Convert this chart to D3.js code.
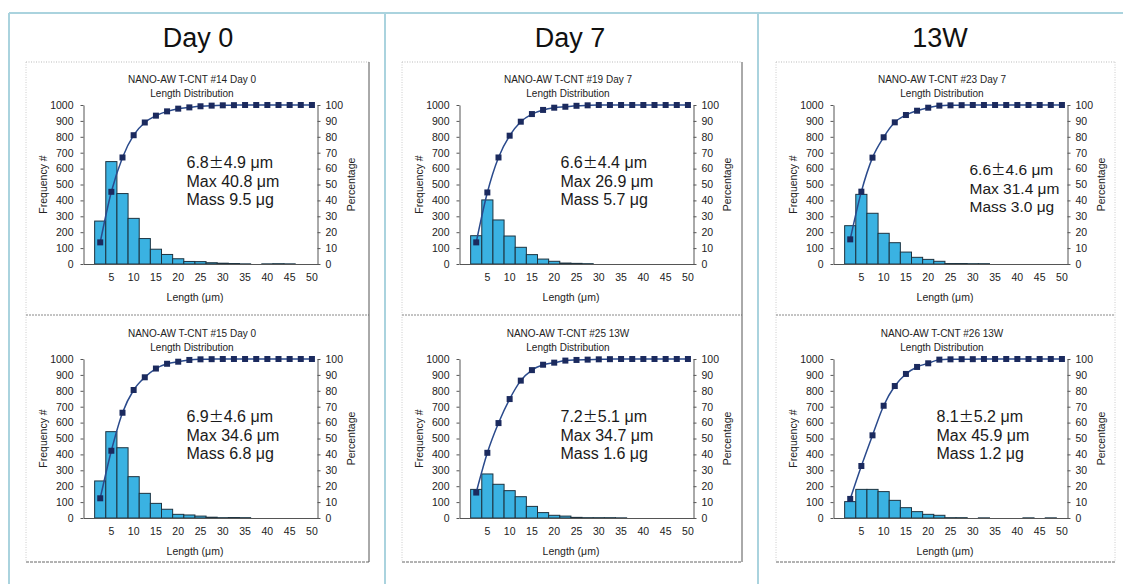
<!DOCTYPE html>
<html>
<head>
<meta charset="utf-8">
<script src="https://cdn.jsdelivr.net/npm/d3@7"></script>
<style>
  body { margin: 0; background: #fff; }
  svg { display: block; font-family: "Liberation Sans", Arial, sans-serif; }
</style>
</head>
<body>
<div id="chart"></div>
<script>
// ---- data ----
const columnTitles = ["Day 0", "Day 7", "13W"]

const sampleTitles = [
    "NANO-AW T-CNT  #14 Day 0", "NANO-AW T-CNT  #15 Day 0",
    "NANO-AW T-CNT  #19 Day 7", "NANO-AW T-CNT  #25 13W",
    "NANO-AW T-CNT  #23 Day 7", "NANO-AW T-CNT  #26 13W"
]

// upper edge of each 2.5 um length bin
const binEdges = [2.5, 5, 7.5, 10, 12.5, 15, 17.5, 20, 22.5, 25, 27.5, 30, 32.5, 35, 37.5, 40, 42.5, 45, 47.5, 50]
const xTickLabels = [5, 10, 15, 20, 25, 30, 35, 40, 45, 50]
const freqTicks = [0, 100, 200, 300, 400, 500, 600, 700, 800, 900, 1000]
const pctTicks = [0, 10, 20, 30, 40, 50, 60, 70, 80, 90, 100]

// frequency per bin
const freq14 = [270, 644, 443, 287, 160, 93, 60, 33, 16, 15, 8, 5, 3, 1, 0, 1, 2, 1, 0, 0]
const freq15 = [233, 543, 442, 260, 155, 92, 55, 23, 19, 12, 5, 2, 3, 2, 0, 0, 0, 0, 0, 0]
const freq19 = [178, 403, 277, 176, 105, 59, 31, 17, 6, 4, 2, 0, 0, 0, 0, 0, 0, 0, 0, 0]
const freq25 = [180, 277, 212, 172, 134, 73, 34, 17, 12, 4, 2, 2, 2, 1, 0, 0, 0, 0, 0, 0]
const freq23 = [241, 438, 319, 193, 134, 75, 42, 29, 17, 3, 3, 2, 2, 0, 0, 0, 0, 0, 0, 0]
const freq26 = [103, 180, 180, 166, 111, 65, 40, 23, 17, 2, 2, 0, 1, 0, 0, 0, 1, 0, 1, 0]

// cumulative percentage per bin
const cum14 = [13.6, 45.4, 67, 81, 89, 93.3, 96, 97.7, 98.5, 99.2, 99.6, 99.8, 99.9, 100, 100, 100, 100, 100, 100, 100]
const cum15 = [12.4, 42.3, 66.2, 80.5, 88.5, 94, 97, 98.3, 99.4, 99.8, 99.9, 100, 100, 100, 100, 100, 100, 100, 100, 100]
const cum19 = [13.6, 45, 67, 80.7, 89.5, 94.3, 96.9, 98.3, 98.9, 99.5, 99.8, 100, 100, 100, 100, 100, 100, 100, 100, 100]
const cum25 = [16, 41, 59.7, 74.8, 86.4, 93, 96.4, 97.7, 99, 99.4, 99.6, 99.8, 99.9, 100, 100, 100, 100, 100, 100, 100]
const cum23 = [15.5, 45.5, 66.9, 79.7, 89.1, 93.7, 96.4, 98.3, 99.6, 99.8, 99.9, 100, 100, 100, 100, 100, 100, 100, 100, 100]
const cum26 = [12, 32.7, 52, 70.6, 83, 90.6, 95, 97.3, 99.6, 99.8, 99.9, 99.9, 100, 100, 100, 100, 100, 100, 100, 100]

const meanSd = ["6.8", "4.9", "6.9", "4.6", "6.6", "4.4", "7.2", "5.1", "6.6", "4.6", "8.1", "5.2"]
const maxLength = ["40.8", "34.6", "26.9", "34.7", "31.4", "45.9"]
const massUg = ["9.5", "6.8", "5.7", "1.6", "3.0", "1.2"]

// ---- layout ----
const W = 1123, H = 584
const colLeft = [26, 402, 776]
const colRight = [369, 742, 1115]
const rowTop = [62, 316]
const plotOffset = {left: 57.5, top: 43, width: 234, height: 159}
// annotation [x, y, font size] inside plot (top-right one sits lower and further right)
const noteOffset = [[103, 63, 16], [103, 63, 16], [101, 63, 16], [101, 63, 16], [136, 70, 15.5], [103, 63, 16]]

const freqs = [freq14, freq15, freq19, freq25, freq23, freq26]
const cums = [cum14, cum15, cum19, cum25, cum23, cum26]

const svg = d3.select("#chart").append("svg")
    .attr("width", W)
    .attr("height", H)

// outer light blue frame
const frame = svg.append("g").attr("stroke", "#aad3de").attr("stroke-width", 2).attr("fill", "none")
frame.append("line").attr("x1", 9).attr("x2", W).attr("y1", 13).attr("y2", 13)
;[9, 385, 758].forEach(x => {
    frame.append("line").attr("x1", x).attr("x2", x).attr("y1", 13).attr("y2", H)
})

// column titles
columnTitles.forEach((t, c) => {
    svg.append("text")
        .attr("x", [198, 570, 940][c])
        .attr("y", 47)
        .attr("text-anchor", "middle")
        .attr("font-size", 27)
        .attr("fill", "#111")
        .text(t)
})

// panel borders
colLeft.forEach((x0, c) => {
    const x1 = colRight[c]
    const g = svg.append("g").attr("fill", "none")
    g.append("line").attr("x1", x0).attr("x2", x1).attr("y1", 62).attr("y2", 62)
        .attr("stroke", "#bbb").attr("stroke-dasharray", "1,1.5")
    g.append("line").attr("x1", x0).attr("x2", x0).attr("y1", 62).attr("y2", 562)
        .attr("stroke", "#ccc").attr("stroke-dasharray", "1,1.5")
    g.append("line").attr("x1", x0).attr("x2", x1).attr("y1", 315).attr("y2", 315)
        .attr("stroke", "#888").attr("stroke-dasharray", "2,1")
    g.append("line").attr("x1", x0).attr("x2", x1).attr("y1", 562).attr("y2", 562)
        .attr("stroke", "#666").attr("stroke-dasharray", "3,1")
    g.append("line").attr("x1", x1).attr("x2", x1).attr("y1", 62).attr("y2", 562)
        .attr("stroke", c < 2 ? "#555" : "#ccc")
        .attr("stroke-dasharray", c < 2 ? null : "1,1.5")
})

// one chart per panel
for (let i = 0; i < 6; i++) {
    const c = Math.floor(i / 2), r = i % 2
    drawChart(i, colLeft[c], rowTop[r])
}

function drawChart(i, px, py) {
    const g = svg.append("g").attr("transform", `translate(${px}, ${py})`)
    const pw = plotOffset.width, ph = plotOffset.height

    // titles
    g.append("text").attr("x", 166).attr("y", 21).attr("text-anchor", "middle")
        .attr("font-size", 10).attr("fill", "#222").text(sampleTitles[i])
    g.append("text").attr("x", 166).attr("y", 35).attr("text-anchor", "middle")
        .attr("font-size", 10).attr("fill", "#222").text("Length Distribution")

    const plot = g.append("g").attr("transform", `translate(${plotOffset.left}, ${plotOffset.top})`)

    const x = d3.scaleBand().domain([0].concat(binEdges)).range([0, pw]).padding(0)
    const yL = d3.scaleLinear().domain([0, 1000]).range([ph, 0])
    const yR = d3.scaleLinear().domain([0, 100]).range([ph, 0])

    const rows = binEdges.map((b, k) => ({bin: b, freq: freqs[i][k], cum: cums[i][k]}))

    // bars
    plot.selectAll(".bar")
        .data(rows.filter(d => d.freq > 0))
        .enter().append("rect")
        .attr("class", "bar")
        .attr("x", d => x(d.bin))
        .attr("y", d => yL(d.freq))
        .attr("width", x.bandwidth())
        .attr("height", d => ph - yL(d.freq))
        .attr("fill", "#3ab2e2")
        .attr("stroke", "#1d3340")
        .attr("stroke-width", 1)

    // axes
    const axisStyle = sel => {
        sel.selectAll("path").attr("stroke", "#555")
        sel.selectAll("line").attr("stroke", "#555")
        sel.selectAll("text").attr("fill", "#222").attr("font-size", 10.5)
            .attr("font-family", "Liberation Sans, Arial, sans-serif")
    }
    plot.append("g").attr("transform", `translate(0, ${ph})`)
        .call(d3.axisBottom(x).tickValues(xTickLabels).tickSize(0).tickPadding(10))
        .call(axisStyle)
    plot.append("g")
        .call(d3.axisLeft(yL).tickValues(freqTicks).tickFormat(d3.format("d"))
            .tickSize(3).tickSizeOuter(0).tickPadding(7))
        .call(axisStyle)
    plot.append("g").attr("transform", `translate(${pw}, 0)`)
        .call(d3.axisRight(yR).tickValues(pctTicks).tickFormat(d3.format("d"))
            .tickSize(3).tickSizeOuter(0).tickPadding(5))
        .call(axisStyle)

    // cumulative line
    const line = d3.line()
        .x(d => x(d.bin) + x.bandwidth() / 2)
        .y(d => yR(d.cum))
        .curve(d3.curveMonotoneX)
    plot.append("path").datum(rows)
        .attr("fill", "none")
        .attr("stroke", "#2a4a8c")
        .attr("stroke-width", 1.5)
        .attr("d", line)
    plot.selectAll(".mk")
        .data(rows)
        .enter().append("rect")
        .attr("class", "mk")
        .attr("x", d => x(d.bin) + x.bandwidth() / 2 - 3)
        .attr("y", d => yR(d.cum) - 3)
        .attr("width", 6)
        .attr("height", 6)
        .attr("fill", "#1b2a5e")

    // axis titles
    g.append("text")
        .attr("transform", `translate(21, ${plotOffset.top + ph / 2}) rotate(-90)`)
        .attr("text-anchor", "middle").attr("font-size", 10.5).attr("fill", "#222")
        .text("Frequency #")
    g.append("text")
        .attr("transform", `translate(329, ${plotOffset.top + ph / 2}) rotate(-90)`)
        .attr("text-anchor", "middle").attr("font-size", 10.5).attr("fill", "#222")
        .text("Percentage")
    g.append("text")
        .attr("x", 169).attr("y", 239)
        .attr("text-anchor", "middle").attr("font-size", 10.5).attr("fill", "#222")
        .text("Length (\u03bcm)")

    // summary note
    const [nx, ny, fs] = noteOffset[i]
    const note = plot.append("text").attr("font-size", fs).attr("fill", "#1a1a1a")
    const l1 = note.append("tspan").attr("x", nx).attr("y", ny)
    l1.append("tspan").text(meanSd[2 * i])
    l1.append("tspan").attr("font-family", "Noto Sans CJK JP").attr("font-size", fs - 1).text("\u00b1")
    l1.append("tspan").text(meanSd[2 * i + 1] + " \u03bcm")
    note.append("tspan").attr("x", nx).attr("y", ny + 19).text("Max " + maxLength[i] + " \u03bcm")
    note.append("tspan").attr("x", nx).attr("y", ny + 37).text("Mass " + massUg[i] + " \u03bcg")
}
</script>
</body>
</html>
